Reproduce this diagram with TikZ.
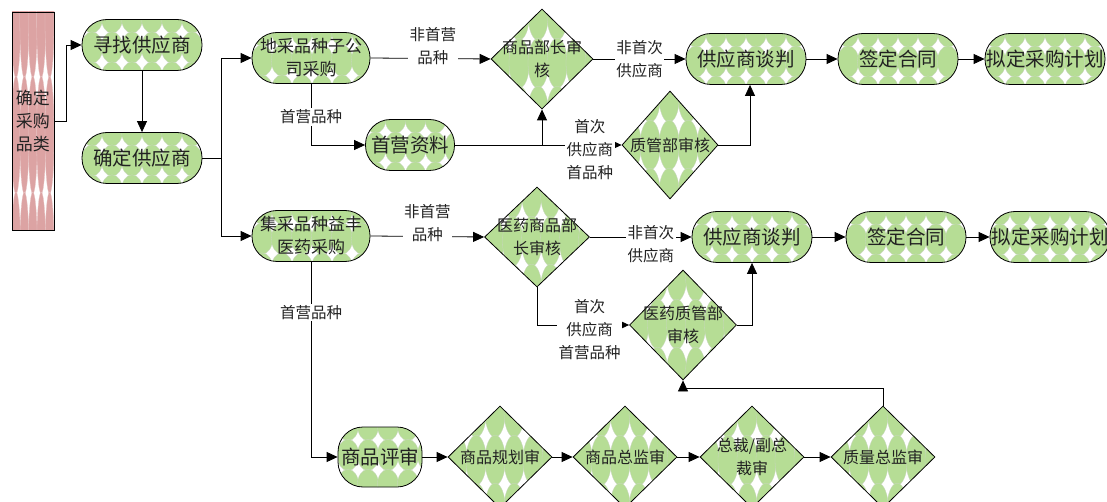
\documentclass[tikz,border=0pt]{standalone}
\usepackage{fontspec}
\setmainfont{Noto Sans CJK SC}
\usetikzlibrary{shapes.geometric,arrows.meta,calc}
\definecolor{leaf}{HTML}{B6DD95}
\definecolor{leafedge}{HTML}{C9D6C0}
\definecolor{pinkleaf}{HTML}{DCA3A3}
\definecolor{pinkedge}{HTML}{E8C4C4}
\definecolor{ink}{HTML}{222222}
\tikzset{
  stadfill/.style={path picture={
    \fill[white] (path picture bounding box.south west) rectangle (path picture bounding box.north east);
    \foreach \i in {0,...,6}{\foreach \j in {0,...,2}{
      \filldraw[fill=leaf,draw=leafedge,line width=0.3pt]
        ($(path picture bounding box.north west)+(\i*20pt+10pt,2pt-\j*30pt)$) ellipse [x radius=10.7pt, y radius=15.7pt];}}
    }},
  diafill/.style={path picture={
    \fill[white] (path picture bounding box.south west) rectangle (path picture bounding box.north east);
    \foreach \i in {0,...,5}{\foreach \j in {0,...,2}{
      \filldraw[fill=leaf,draw=leafedge,line width=0.3pt]
        ($(path picture bounding box.north west)+(\i*19pt+9pt,-6pt-\j*48pt)$) ellipse [x radius=10.2pt, y radius=25pt];}}
    }},
  barfill/.style={path picture={
    \fill[white] (path picture bounding box.south west) rectangle (path picture bounding box.north east);
    \foreach \i in {0,...,5}{\foreach \j in {0,...,2}{
      \filldraw[fill=pinkleaf,draw=pinkedge,line width=0.3pt]
        ($(path picture bounding box.north west)+(\i*8.4pt+4pt,-7pt-\j*116pt)$) ellipse [x radius=4.6pt, y radius=59pt];}}
    }},
  stad/.style={rectangle, rounded corners=25pt, draw=black, line width=0.8pt, stadfill,
    minimum width=120pt, minimum height=51pt, inner sep=0pt, align=center, text=ink,
    font=\fontsize{19.5}{23}\selectfont},
  stadtwo/.style={stad, font=\fontsize{17}{23}\selectfont},
  dia/.style={diamond, draw=black, line width=0.8pt, diafill, inner sep=0pt,
    minimum width=104pt, minimum height=102pt},
  dtxt/.style={align=center, text=ink, inner sep=0pt, font=\fontsize{16}{23}\selectfont},
  lbl/.style={fill=white, inner sep=1.5pt, align=center, text=ink, font=\fontsize{15.5}{23}\selectfont},
  arr/.style={draw=black, line width=0.8pt, -{Triangle[length=11pt,width=10pt]}},
}
\begin{document}
\begin{tikzpicture}[x=1pt,y=-1pt]
\useasboundingbox (0,0) rectangle (1107,502);

% left bar
\node[rectangle, draw=black, line width=0.8pt, barfill, minimum width=42pt, minimum height=218pt,
  inner sep=0pt, align=center, text=ink, font=\fontsize{17}{23}\selectfont] (bar) at (33,121) {确定\\采购\\品类};

% column 1
\node[stad] (find) at (142,45) {寻找供应商};
\node[stad] (confirm) at (142,158) {确定供应商};

% top branch
\node[stadtwo, minimum width=118pt] (dicai) at (311,58) {地采品种子公\\司采购};
\node[stad, minimum width=89pt] (sy) at (410,145) {首营资料};
\node[dia, minimum width=102pt, minimum height=100pt] (d1) at (542,59) {};
\node[dtxt] (d1t) at (d1) {商品部长审\\核};
\node[dia, minimum width=96pt, minimum height=108pt] (q1) at (670,145) {};
\node[dtxt] (q1t) at (q1) {质管部审核};
\node[stad] (neg1) at (746,59) {供应商谈判};
\node[stad] (sign1) at (898,59) {签定合同};
\node[stad] (plan1) at (1045,59) {拟定采购计划};

% middle branch
\node[stadtwo, minimum width=118pt] (jicai) at (311,236) {集采品种益丰\\医药采购};
\node[dia, minimum width=105pt, minimum height=100pt] (d2) at (537,237) {};
\node[dtxt] (d2t) at (d2) {医药商品部\\长审核};
\node[dia, minimum width=107pt, minimum height=110pt] (q2) at (683,325) {};
\node[dtxt] (q2t) at (q2) {医药质管部\\审核};
\node[stad] (neg2) at (752,237) {供应商谈判};
\node[stad] (sign2) at (906,237) {签定合同};
\node[stad] (plan2) at (1050,237) {拟定采购计划};

% bottom branch
\node[stad, minimum width=84pt, minimum height=60pt] (rev) at (380,457) {商品评审};
\node[dia] (b1) at (500,457) {};
\node[dtxt] (b1t) at (b1) {商品规划审};
\node[dia] (b2) at (625,457) {};
\node[dtxt] (b2t) at (b2) {商品总监审};
\node[dia] (b3) at (752,457) {};
\node[dtxt] (b3t) at (b3) {总裁/副总\\裁审};
\node[dia] (b4) at (883,457) {};
\node[dtxt] (b4t) at (b4) {质量总监审};

% connectors
\draw[arr] (bar.east) -- ++(12,0) |- (find.west);
\draw[arr] (find.south) -- (confirm.north);
\draw[arr] (confirm.east) -- ++(19,0) |- (dicai.west);
\draw[arr] (confirm.east) -- ++(19,0) |- (jicai.west);

\draw[arr] (dicai.east) -- node[lbl, pos=0.52, yshift=12pt] {非首营\\品种} (d1.west);
\draw[arr] (d1.east) -- node[lbl, pos=0.5] {非首次\\供应商} (neg1.west);
\draw[arr] (neg1.east) -- (sign1.west);
\draw[arr] (sign1.east) -- (plan1.west);
\draw[arr] (dicai.south) |- node[lbl, pos=0.27] {首营品种} (sy.west);
\draw[arr] (sy.east) -| (d1.south);
\draw[arr] (sy.east) -- node[lbl, pos=0.81, yshift=-5pt] {首次\\供应商\\首品种} (q1.west);
\draw[arr] (q1.east) -| ([xshift=4pt]neg1.south);

\draw[arr] (jicai.east) -- node[lbl, pos=0.5, yshift=13pt] {非首营\\品种} (d2.west);
\draw[arr] (d2.east) -- node[lbl, pos=0.6, yshift=-7pt] {非首次\\供应商} (neg2.west);
\draw[arr] (neg2.east) -- (sign2.west);
\draw[arr] (sign2.east) -- (plan2.west);
\draw[arr] (d2.south) |- node[lbl, pos=0.785, yshift=-5pt] {首次\\供应商\\首营品种} (q2.west);
\draw[arr] (q2.east) -| (neg2.south);

\draw[arr] (jicai.south) |- node[lbl, pos=0.13] {首营品种} (rev.west);
\draw[arr] (rev.east) -- (b1.west);
\draw[arr] (b1.east) -- (b2.west);
\draw[arr] (b2.east) -- (b3.west);
\draw[arr] (b3.east) -- (b4.west);
\draw[arr] (b4.north) -- ++(0,-17) -| (q2.south);
\end{tikzpicture}
\end{document}
